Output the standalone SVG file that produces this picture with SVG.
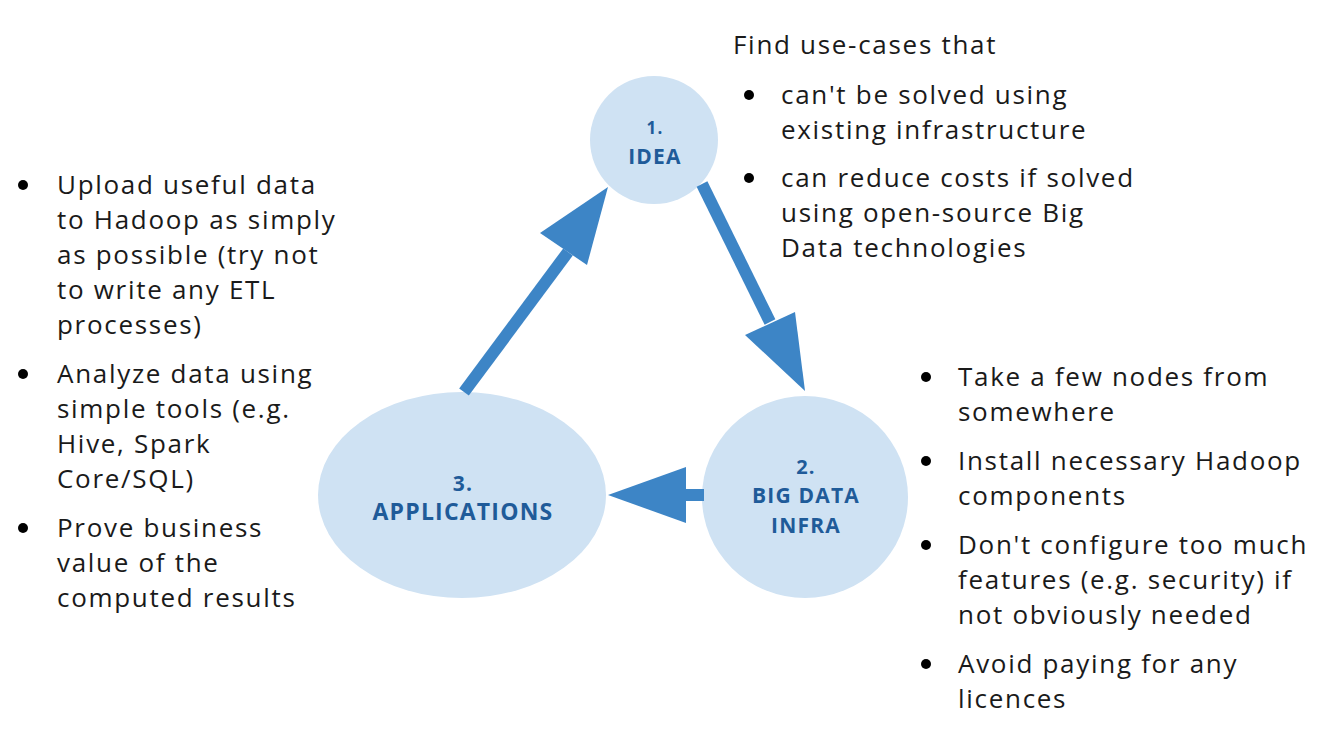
<svg xmlns="http://www.w3.org/2000/svg" width="1326" height="750" viewBox="0 0 1326 750">
<style>
.node{fill:#cfe2f3}
.lbl{font-family:"Open Sans",Lato,sans-serif;font-weight:bold;fill:#1f5b99;text-anchor:middle;letter-spacing:1.2px}
.txt{font-family:"Open Sans",Lato,sans-serif;font-size:26px;fill:#1a1a1a;letter-spacing:1.7px}
.arr{fill:#3d85c6}
.shaft{stroke:#3d85c6;stroke-width:12;fill:none}
.dot{fill:#000}
</style>
<rect width="1326" height="750" fill="#fff"/>
<g id="node-idea">
<circle class="node" cx="654" cy="140" r="64"/>
<text class="lbl" x="655" y="134" font-size="17">1.</text>
<text class="lbl" x="655" y="164" font-size="21">IDEA</text>
</g>
<g id="node-bigdata">
<ellipse class="node" cx="805" cy="497" rx="103" ry="101"/>
<text class="lbl" x="806" y="474" font-size="20">2.</text>
<text class="lbl" x="806" y="503" font-size="21">BIG DATA</text>
<text class="lbl" x="806" y="533" font-size="21">INFRA</text>
</g>
<g id="node-applications">
<ellipse class="node" cx="462" cy="495" rx="144" ry="103"/>
<text class="lbl" x="463" y="491" font-size="21">3.</text>
<text class="lbl" x="463" y="520" font-size="23">APPLICATIONS</text>
</g>
<g id="connectors">
<line class="shaft" x1="702" y1="184" x2="770" y2="322"/>
<polygon class="arr" points="745,335 795,312 805,391"/>
<line class="shaft" x1="464" y1="392" x2="568" y2="252"/>
<polygon class="arr" points="540,233 608,187 587,265"/>
<rect class="arr" x="684" y="489" width="20" height="12"/>
<polygon class="arr" points="608,495 686,467 686,523"/>
</g>
<g id="text-idea">
<text class="txt" x="733" y="54">Find use-cases that</text>
<circle class="dot" cx="749" cy="95" r="5"/>
<text class="txt" x="781" y="104">can't be solved using</text>
<text class="txt" x="781" y="139">existing infrastructure</text>
<circle class="dot" cx="749" cy="178" r="5"/>
<text class="txt" x="781" y="187">can reduce costs if solved</text>
<text class="txt" x="781" y="222">using open-source Big</text>
<text class="txt" x="781" y="257">Data technologies</text>
</g>
<g id="text-bigdata">
<circle class="dot" cx="926" cy="377" r="5"/>
<text class="txt" x="958" y="386">Take a few nodes from</text>
<text class="txt" x="958" y="421">somewhere</text>
<circle class="dot" cx="926" cy="461" r="5"/>
<text class="txt" x="958" y="470">Install necessary Hadoop</text>
<text class="txt" x="958" y="505">components</text>
<circle class="dot" cx="926" cy="545" r="5"/>
<text class="txt" x="958" y="554">Don't configure too much</text>
<text class="txt" x="958" y="589">features (e.g. security) if</text>
<text class="txt" x="958" y="624">not obviously needed</text>
<circle class="dot" cx="926" cy="664" r="5"/>
<text class="txt" x="958" y="673">Avoid paying for any</text>
<text class="txt" x="958" y="708">licences</text>
</g>
<g id="text-applications">
<circle class="dot" cx="23" cy="185" r="5"/>
<text class="txt" x="57" y="194">Upload useful data</text>
<text class="txt" x="57" y="229">to Hadoop as simply</text>
<text class="txt" x="57" y="264">as possible (try not</text>
<text class="txt" x="57" y="299">to write any ETL</text>
<text class="txt" x="57" y="334">processes)</text>
<circle class="dot" cx="23" cy="374" r="5"/>
<text class="txt" x="57" y="383">Analyze data using</text>
<text class="txt" x="57" y="418">simple tools (e.g.</text>
<text class="txt" x="57" y="453">Hive, Spark</text>
<text class="txt" x="57" y="488">Core/SQL)</text>
<circle class="dot" cx="23" cy="528" r="5"/>
<text class="txt" x="57" y="537">Prove business</text>
<text class="txt" x="57" y="572">value of the</text>
<text class="txt" x="57" y="607">computed results</text>
</g>
</svg>
